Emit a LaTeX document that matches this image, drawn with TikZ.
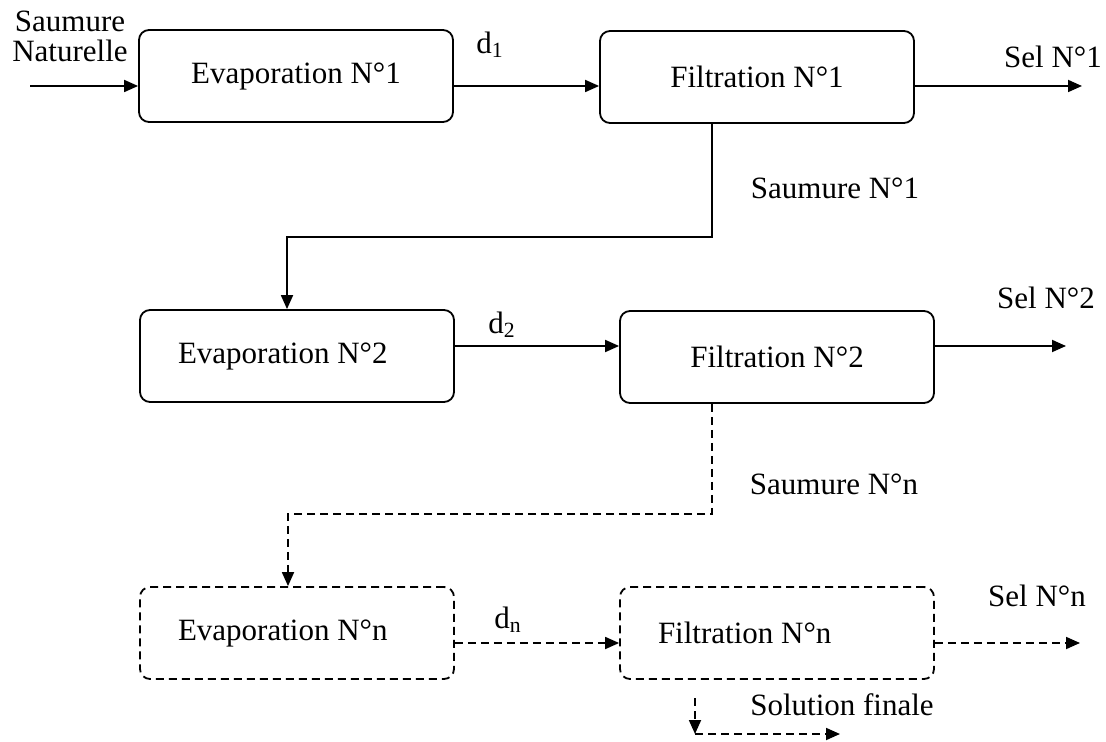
\documentclass[tikz,border=0pt]{standalone}
\usepackage{fontspec}
\setmainfont{Liberation Serif}
\usetikzlibrary{arrows.meta,positioning}

\begin{document}
\begin{tikzpicture}[
    x=0.5pt, y=-0.5pt,
    every node/.style={font=\fontsize{15.5}{18}\selectfont},
    unit/.style={rectangle,draw,rounded corners=5pt,line width=0.9pt,minimum width=157pt,minimum height=46pt,inner sep=0pt},
    indent/.style={text width=119pt,inner xsep=19pt,align=flush left},
    flow/.style={line width=0.9pt,-{Triangle[length=7pt,width=6pt]}},
    lazy/.style={dash pattern=on 4pt off 2.5pt}
  ]
    \useasboundingbox (0,0) rectangle (1106,742);

    % Stage 1
    \node[unit] (evapA) at (296,76) {Evaporation N°1};
    \node[unit] (filtA) at (757,77) {Filtration N°1};

    % Stage 2
    \node[unit,indent] (evapB) at (297,356) {Evaporation N°2};
    \node[unit] (filtB) at (777,357) {Filtration N°2};

    % Stage n
    \node[unit,indent,lazy] (evapN) at (297,633) {Evaporation N°n};
    \node[unit,indent,lazy] (filtN) at (777,633) {Filtration N°n};

    % Free ends and bends
    \coordinate (feed) at (30,86);
    \coordinate (selA) at (1082,86);
    \coordinate (selB) at (1066,346);
    \coordinate (selN) at (1080,643);
    \coordinate (bendA) at (712,237);
    \coordinate (bendB) at (287,237);
    \coordinate (bendC) at (712,514);
    \coordinate (bendD) at (288,514);
    \coordinate (solA) at (695,698);
    \coordinate (solC) at (695,734);
    \coordinate (solB) at (840,734);

    % Connections
    \draw[flow] (feed) -- (evapA.west |- feed);
    \draw[flow] (evapA.east |- feed) -- (filtA.west |- feed);
    \draw[flow] (filtA.east |- selA) -- (selA);
    \draw[flow] (filtA.south -| bendA) -- (bendA) -- (bendB) -- (evapB.north -| bendB);

    \draw[flow] (evapB.east |- selB) -- (filtB.west |- selB);
    \draw[flow] (filtB.east |- selB) -- (selB);
    \draw[flow,lazy] (filtB.south -| bendC) -- (bendC) -- (bendD) -- (evapN.north -| bendD);

    \draw[flow,lazy] (evapN.east |- selN) -- (filtN.west |- selN);
    \draw[flow,lazy] (filtN.east |- selN) -- (selN);
    \draw[flow,lazy] (solA) -- (solC);
    \draw[flow,lazy] (solC) -- (solB);

    % Stream labels
    \node[align=center,inner sep=0pt] (feedlbl) at (70,36) {Saumure\\[-3pt]Naturelle};
    \node (dA) at (490,45) {d\textsubscript{1}};
    \node (dB) at (502,325) {d\textsubscript{2}};
    \node (dN) at (508,620) {d\textsubscript{n}};
    \node (selAlbl) at (1053,57) {Sel N°1};
    \node (selBlbl) at (1046,298) {Sel N°2};
    \node (selNlbl) at (1037,596) {Sel N°n};
    \node (saumA) at (835,188) {Saumure N°1};
    \node (saumN) at (834,484) {Saumure N°n};
    \node (sol) at (842,705) {Solution finale};
  \end{tikzpicture}
\end{document}
